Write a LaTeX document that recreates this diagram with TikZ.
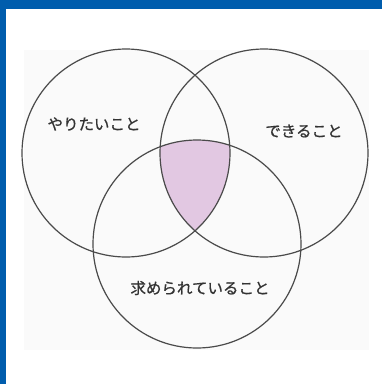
\documentclass[tikz,border=0pt]{standalone}
\usepackage{fontspec}
\newfontfamily\jp[FakeBold=0.8]{Noto Sans CJK JP}
\definecolor{frameblue}{HTML}{005DAD}
\definecolor{bggray}{HTML}{FAFAFA}
\definecolor{pinkfill}{HTML}{E2C8E2}
\definecolor{ringgray}{HTML}{4A4A4A}
\definecolor{textgray}{HTML}{333333}
\tikzset{
  ring/.style={circle, draw=ringgray, line width=1.2pt, minimum size=208pt, inner sep=0pt},
  label/.style={font=\jp\fontsize{15.5pt}{17pt}\selectfont, text=textgray, inner sep=0pt}
}
\begin{document}
\begin{tikzpicture}[x=1pt,y=-1pt]
\useasboundingbox (0,0) rectangle (382,384);
\fill[white] (0,0) rectangle (382,384);
\fill[frameblue] (0,0) rectangle (382,9);
\fill[frameblue] (0,0) rectangle (6,384);
\fill[bggray] (24,50) rectangle (369,350);
\begin{scope}
  \clip (126,153) circle[radius=104pt];
  \clip (264,153) circle[radius=104pt];
  \fill[pinkfill] (197,244) circle[radius=104pt];
\end{scope}
\node[ring] (L) at (126,153) {};
\node[ring] (R) at (264,153) {};
\node[ring] (B) at (197,244) {};
\node[label] (tl) at (94,124) {やりたいこと};
\node[label] (tr) at (304,131) {できること};
\node[label] (tb) at (200,288) {求められていること};
\end{tikzpicture}
\end{document}
